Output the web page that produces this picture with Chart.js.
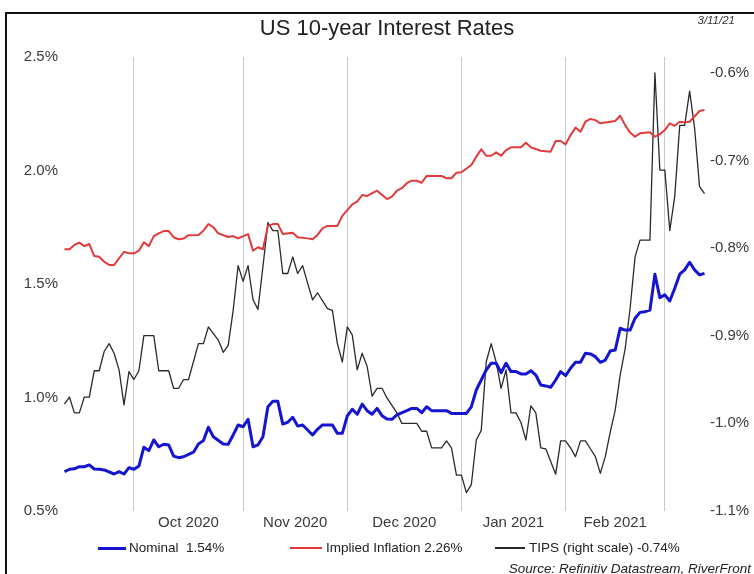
<!DOCTYPE html>
<html>
<head>
<meta charset="utf-8">
<title>US 10-year Interest Rates</title>
<script src="https://cdn.jsdelivr.net/npm/chart.js@4.4.1/dist/chart.umd.min.js"></script>
<style>
  html, body { margin: 0; padding: 0; background: #fff; }
  body { width: 754px; height: 574px; position: relative; overflow: hidden;
         font-family: "Liberation Sans", Arial, sans-serif; color: #222; }
  #frame { position: absolute; left: 5px; top: 12px; width: 800px; height: 700px;
           border-left: 2px solid #111; border-top: 2px solid #111; }
  #chart { position: absolute; left: 0; top: 0; }
  .title { position: absolute; left: 0; width: 774px; top: 15px; text-align: center;
           font-size: 22px; color: #222; }
  .date { position: absolute; right: 19px; top: 14px; font-size: 11.5px; font-style: italic; color: #333; }
  .legend-item { position: absolute; top: 540px; font-size: 13.5px; line-height: 16px; color: #222; white-space: nowrap; }
  .swatch { position: absolute; }
  .source { position: absolute; right: 3px; top: 561px; font-size: 13.5px; font-style: italic; color: #222; white-space: nowrap; }
</style>
</head>
<body>
<div id="frame"></div>
<canvas id="chart" width="754" height="574"></canvas>
<div class="title">US 10-year Interest Rates</div>
<div class="date">3/11/21</div>
<div id="legend"></div>
<div class="source">Source: Refinitiv Datastream, RiverFront</div>

<script>
// x = trading-day index, 0 = 11 Sep 2020
const monthLabels   = ['Oct 2020', 'Nov 2020', 'Dec 2020', 'Jan 2021', 'Feb 2021'];
const monthStartIdx = [14, 36, 57, 80, 101, 121];
const leftTicks  = [0.5, 1.0, 1.5, 2.0, 2.5];
const rightTicks = [-1.1, -1.0, -0.9, -0.8, -0.7, -0.6];

// Nominal 10y yield (left scale, %)
const nominalIdx = [0,1,2,3,4,5,6,7,8,10,11,12,13,14,15,16,17,18,19,20,21,22,23,24,26,27,28,29,30,
  32,33,34,35,36,37,38,39,40,41,42,43,44,45,46,47,48,49,50,51,52,54,55,56,57,58,59,60,61,62,63,64,65,66,67,
  69,70,71,72,73,74,77,78,81,82,83,84,85,86,87,88,89,90,91,92,93,94,95,96,97,98,99,100,101,102,103,104,105,
  106,107,108,109,110,111,112,113,114,115,116,117,118,119,120,121,122,123,124,125,126,127,128,129];
const nominalVal = [0.673,0.684,0.686,0.695,0.695,0.703,0.685,0.684,0.681,
  0.663,0.673,0.663,0.691,0.684,0.698,0.781,0.766,0.813,0.783,0.794,0.791,0.742,0.735,0.739,
  0.759,0.795,0.810,0.869,0.827,
  0.795,0.794,0.835,0.879,0.871,0.904,0.783,0.791,0.827,0.959,0.983,0.983,0.883,0.891,0.913,0.874,0.879,0.857,0.835,0.860,0.879,
  0.879,0.842,0.842,0.919,0.948,0.926,0.971,0.942,0.926,0.952,0.920,0.905,0.904,0.923,
  0.942,0.952,0.952,0.933,0.959,0.942,
  0.942,0.930,
  0.930,0.959,1.033,1.077,1.121,1.151,1.151,1.109,1.151,1.114,1.114,1.104,1.104,1.118,1.099,1.055,1.051,1.045,
  1.077,1.114,1.096,1.129,1.155,1.155,1.195,1.192,1.180,1.155,1.165,1.205,1.209,1.305,1.297,1.297,1.349,1.375,
  1.378,1.385,1.543,1.440,1.452,1.425,1.481,1.543,1.562,1.596,1.562,1.540,1.547];

// Implied inflation (left scale, %)
const inflationIdx = [0,1,2,3,4,5,6,7,8,9,10,11,12,13,14,15,16,17,18,19,20,21,22,23,24,25,27,28,29,30,31,
  33,34,35,37,38,39,40,41,42,43,44,46,47,49,50,51,52,53,55,56,58,59,60,61,63,65,66,67,68,69,70,71,72,73,
  76,77,78,79,80,82,83,84,85,86,87,88,89,90,92,93,94,96,98,99,100,101,102,103,104,105,106,107,108,
  110,111,112,113,114,115,116,118,119,120,121,122,123,124,125,126,128,129];
const inflationVal = [1.653,1.653,1.672,1.682,1.667,1.676,1.623,1.620,1.598,1.584,1.584,1.613,1.642,1.635,1.635,
  1.647,1.684,1.667,1.711,1.723,1.733,1.733,1.706,1.697,1.700,1.715,1.716,1.735,1.764,1.750,1.723,
  1.707,1.711,1.701,1.720,1.647,1.662,1.653,1.756,1.764,1.764,1.720,1.726,1.706,1.701,1.697,1.716,1.745,1.756,
  1.756,1.800,1.851,1.863,1.892,1.888,1.911,1.874,1.885,1.911,1.922,1.944,1.955,1.955,1.946,1.976,
  1.976,1.966,1.966,1.990,1.992,2.024,2.061,2.093,2.065,2.065,2.080,2.065,2.090,2.102,2.102,2.122,2.102,
  2.087,2.083,2.130,2.130,2.115,2.156,2.189,2.171,2.215,2.227,2.222,2.208,
  2.215,2.218,2.241,2.200,2.167,2.149,2.164,2.168,2.149,2.160,2.178,2.208,2.197,2.215,2.212,2.215,2.262,2.267];

// TIPS real yield (right scale, %)
const tipsIdx = [0,1,2,3,4,5,6,7,8,9,10,11,12,13,14,15,16,18,19,21,22,23,24,25,27,28,29,31,32,33,34,35,36,37,
  38,39,40,41,42,43,44,45,46,47,48,49,50,51,53,54,55,56,57,58,59,60,61,62,63,64,65,67,68,71,72,73,74,
  76,77,78,79,80,81,82,83,84,85,86,87,88,89,90,91,92,93,94,95,96,97,99,100,101,102,103,104,105,106,107,
  108,109,110,111,112,113,114,115,116,118,119,120,121,122,123,124,125,126,127,128,129];
const tipsVal = [-0.978,-0.970,-0.988,-0.988,-0.970,-0.970,-0.940,-0.940,-0.918,-0.909,-0.920,-0.939,-0.979,
  -0.941,-0.950,-0.940,-0.900,-0.900,-0.940,-0.940,-0.960,-0.960,-0.950,-0.950,-0.909,-0.909,-0.890,-0.905,
  -0.919,-0.911,-0.871,-0.820,-0.838,-0.820,-0.859,-0.870,-0.821,-0.771,-0.780,-0.780,-0.829,-0.829,-0.810,
  -0.829,-0.820,-0.840,-0.859,-0.851,-0.869,-0.871,-0.909,-0.930,-0.890,-0.899,-0.939,-0.920,-0.935,-0.969,
  -0.960,-0.960,-0.971,-0.988,-1.000,-1.000,-1.009,-1.009,-1.028,
  -1.028,-1.020,-1.028,-1.059,-1.059,-1.079,-1.070,-1.019,-1.008,-0.930,-0.909,-0.930,-0.960,-0.939,-0.988,
  -0.988,-0.999,-1.019,-0.980,-0.988,-1.028,-1.029,-1.058,-1.020,-1.020,-1.028,-1.038,-1.020,-1.020,-1.029,
  -1.038,-1.057,-1.038,-1.010,-0.985,-0.945,-0.915,-0.869,-0.810,-0.791,-0.791,-0.600,-0.711,-0.711,-0.780,
  -0.741,-0.660,-0.660,-0.621,-0.663,-0.730,-0.738];

const seriesNames  = ['Nominal  1.54%', 'Implied Inflation 2.26%', 'TIPS (right scale) -0.74%'];
const seriesColors = ['#1414d2', '#e23a3a', '#2a2a2a'];

function toPoints(idx, vals) {
  return idx.map((x, k) => ({ x: x, y: vals[k] }));
}

const monthMid = monthLabels.map((l, i) => (monthStartIdx[i] + monthStartIdx[i + 1]) / 2);

const ctx = document.getElementById('chart').getContext('2d');
new Chart(ctx, {
  type: 'line',
  data: {
    datasets: [
      { label: seriesNames[0], data: toPoints(nominalIdx, nominalVal), borderColor: seriesColors[0],
        borderWidth: 3, yAxisID: 'y' },
      { label: seriesNames[1], data: toPoints(inflationIdx, inflationVal), borderColor: seriesColors[1],
        borderWidth: 2, yAxisID: 'y' },
      { label: seriesNames[2], data: toPoints(tipsIdx, tipsVal), borderColor: seriesColors[2],
        borderWidth: 1.3, yAxisID: 'y2' }
    ]
  },
  options: {
    responsive: false,
    animation: false,
    devicePixelRatio: 1,
    elements: { point: { radius: 0 }, line: { tension: 0, borderJoinStyle: 'round' } },
    layout: { padding: { top: 57, left: 0, right: 0, bottom: 0 } },
    plugins: { legend: { display: false }, tooltip: { enabled: false } },
    scales: {
      x: {
        type: 'linear',
        min: -0.5, max: 129.5,
        afterFit: (s) => { s.height = 63; },
        afterBuildTicks: (s) => {
          const t = monthStartIdx.concat(monthMid).sort((a, b) => a - b);
          s.ticks = t.map(v => ({ value: v }));
        },
        border: { display: false },
        grid: {
          drawTicks: false,
          lineWidth: 1,
          color: (c) => (c.tick && monthStartIdx.includes(c.tick.value)) ? '#c9c9c9' : 'rgba(0,0,0,0)'
        },
        ticks: {
          autoSkip: false, maxRotation: 0, padding: 3,
          color: '#3a3a3a',
          font: { family: '"Liberation Sans", Arial, sans-serif', size: 15 },
          callback: (v) => { const i = monthMid.indexOf(v); return i >= 0 ? monthLabels[i] : ''; }
        }
      },
      y: {
        position: 'left',
        min: 0.5, max: 2.5,
        afterFit: (s) => { s.width = 62; },
        afterBuildTicks: (s) => { s.ticks = leftTicks.map(v => ({ value: v })); },
        border: { display: false },
        grid: { display: false, drawTicks: false },
        ticks: {
          padding: 4, color: '#3a3a3a',
          font: { family: '"Liberation Sans", Arial, sans-serif', size: 15 },
          callback: (v) => v.toFixed(1) + '%'
        }
      },
      y2: {
        position: 'right',
        min: -1.1, max: -0.582,
        afterFit: (s) => { s.width = 47; },
        afterBuildTicks: (s) => { s.ticks = rightTicks.map(v => ({ value: v })); },
        border: { display: false },
        grid: { display: false, drawTicks: false },
        ticks: {
          padding: 3, color: '#3a3a3a',
          font: { family: '"Liberation Sans", Arial, sans-serif', size: 15 },
          callback: (v) => v.toFixed(1) + '%'
        }
      }
    }
  }
});

// legend (html, like the original layout)
const legendPos = [[98, 28, 129], [290, 32, 326], [495, 30, 529]];
const legendWidths = [3, 2, 1.5];
const $legend = document.getElementById('legend');
seriesNames.forEach((name, i) => {
  const [lx, lw, tx] = legendPos[i];
  const sw = document.createElement('div');
  sw.className = 'swatch';
  sw.style.cssText = `left:${lx}px;top:${548 - legendWidths[i] / 2}px;width:${lw}px;height:${legendWidths[i]}px;background:${seriesColors[i]};`;
  $legend.appendChild(sw);
  const tx_ = document.createElement('div');
  tx_.className = 'legend-item';
  tx_.style.left = tx + 'px';
  tx_.textContent = name;
  tx_.style.whiteSpace = 'pre';
  $legend.appendChild(tx_);
});
</script>
</body>
</html>
